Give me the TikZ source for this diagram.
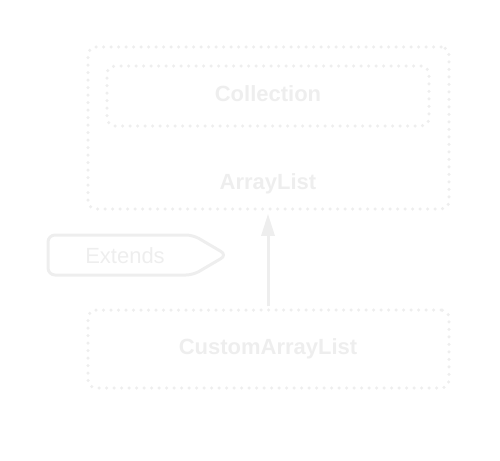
\documentclass[tikz,border=0pt]{standalone}
\usepackage{fontspec}
\setmainfont{Liberation Sans}
\usetikzlibrary{arrows.meta}
\definecolor{pale}{HTML}{EEEEEE}
\begin{document}
\begin{tikzpicture}[x=1pt,y=-1pt,
  dotbox/.style={draw=pale, line width=3.5pt, line cap=round, dash pattern=on 0pt off 7.5pt, rounded corners=8pt, inner sep=0pt},
  lbl/.style={text=pale, font=\fontsize{22}{26}\selectfont\bfseries},
  conn/.style={draw=pale, line width=3pt, -{Triangle[length=22pt,width=13pt]}}]
\useasboundingbox (0,0) rectangle (500,460);
\node[dotbox, minimum width=361pt, minimum height=162pt] (outer) at (268.5,128) {};
\node[dotbox, minimum width=322pt, minimum height=60pt] (inner) at (268,96) {};
\node[lbl] (coll) at (268,94) {Collection};
\node[lbl] (al) at (268,184) {ArrayList};
\node[dotbox, minimum width=361pt, minimum height=78pt] (custom) at (268.5,349) {};
\node[lbl] (cal) at (268,349) {CustomArrayList};
\draw[conn, shorten <=2pt, shorten >=3pt] (custom.north -| al) -- (outer.south -| al);
\node[text=pale, font=\fontsize{22}{26}\selectfont] (ext) at (125,256) {Extends};
\draw[pale, line width=3pt, rounded corners=7pt] (48,235) -- (193,235) -- (227,255) -- (193,275) -- (48,275) -- cycle;
\end{tikzpicture}
\end{document}
